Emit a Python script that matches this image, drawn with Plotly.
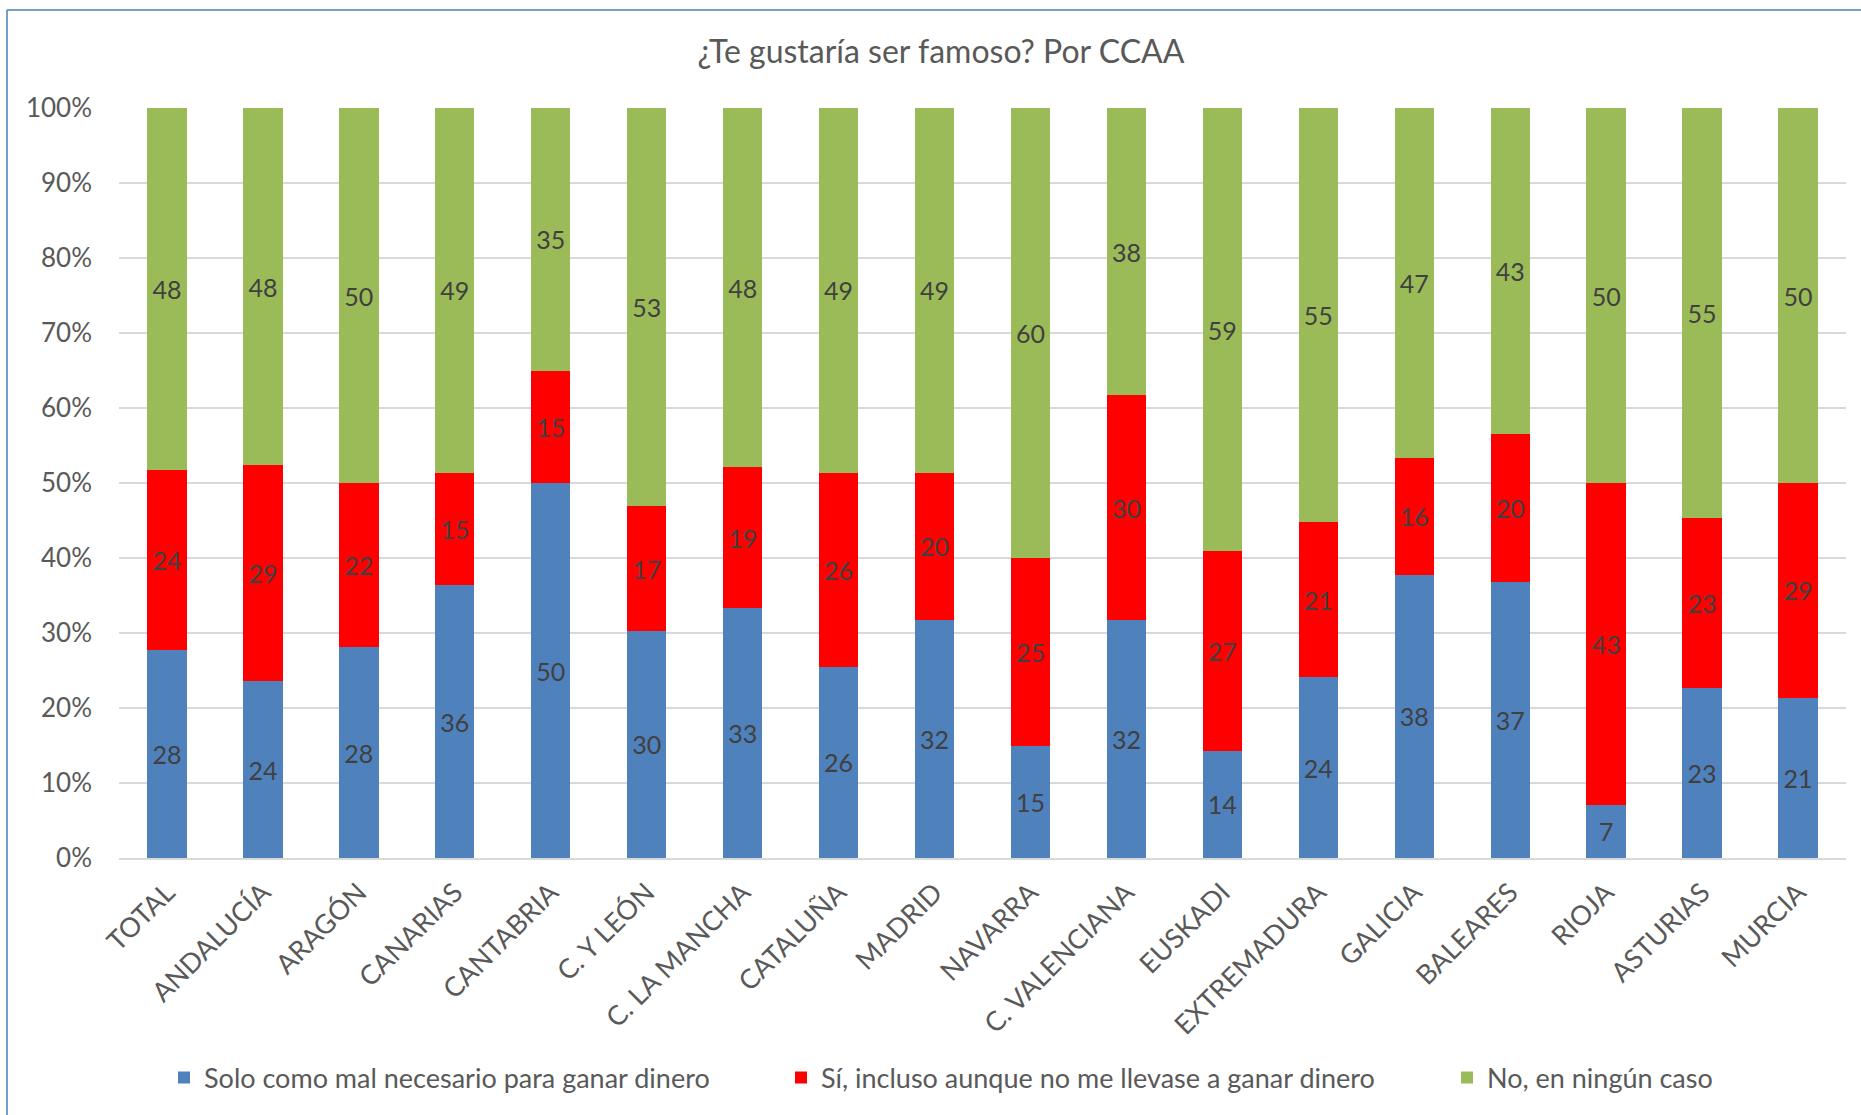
import plotly.graph_objects as go

categories = ["TOTAL", "ANDALUCÍA", "ARAGÓN", "CANARIAS", "CANTABRIA", "C. Y LEÓN",
              "C. LA MANCHA", "CATALUÑA", "MADRID", "NAVARRA", "C. VALENCIANA",
              "EUSKADI", "EXTREMADURA", "GALICIA", "BALEARES", "RIOJA", "ASTURIAS", "MURCIA"]

solo_mal_necesario = [27.8, 23.6, 28.1, 36.4, 50.0, 30.3, 33.3, 25.5, 31.7, 15.0,
                      31.7, 14.3, 24.1, 37.8, 36.8, 7.1, 22.7, 21.4]
si_incluso = [24.0, 28.8, 21.9, 15.0, 15.0, 16.6, 18.8, 25.9, 19.7, 25.0,
              30.0, 26.6, 20.7, 15.6, 19.8, 42.9, 22.7, 28.6]
no_ningun_caso = [48.2, 47.6, 50.0, 48.6, 35.0, 53.1, 47.9, 48.6, 48.6, 60.0,
                  38.3, 59.1, 55.2, 46.6, 43.4, 50.0, 54.6, 50.0]

series_names = ["Solo como mal necesario para ganar dinero",
                "Sí, incluso aunque no me llevase a ganar dinero",
                "No, en ningún caso"]
series_values = [solo_mal_necesario, si_incluso, no_ningun_caso]
series_colors = ["#4F81BD", "#FF0000", "#9BBB59"]
legend_ids = ["legend", "legend2", "legend3"]

FONT = "Lato"
TXT = "#595959"

fig = go.Figure()
for name, vals, col, lg in zip(series_names, series_values, series_colors, legend_ids):
    fig.add_trace(go.Bar(
        x=categories, y=vals, name=name,
        marker=dict(color=col, line=dict(width=0)),
        texttemplate="%{y:.0f}", textposition="inside", insidetextanchor="middle",
        textfont=dict(family=FONT, size=25, color="#404040"),
        constraintext="none", cliponaxis=False,
        legend=lg,
    ))

W, H = 1861, 1115
L, R, T, B = 119, 15, 108, 257
pw, ph = W - L - R, H - T - B

def px(xpix):
    return (xpix - L) / pw

def py(ypix):
    return (H - B - ypix) / ph

leg_common = dict(orientation="h", yanchor="middle", xanchor="left",
                  font=dict(family=FONT, size=27, color=TXT),
                  bgcolor="rgba(0,0,0,0)", itemwidth=30)

fig.update_layout(
    width=W, height=H,
    margin=dict(l=L, r=R, t=T, b=B),
    paper_bgcolor="white", plot_bgcolor="white",
    barmode="stack", bargap=0.59,
    title=dict(text="¿Te gustaría ser famoso? Por CCAA", x=941 / W, xref="container",
               xanchor="center", y=1 - 52 / H, yref="container", yanchor="middle",
               font=dict(family=FONT, size=32, color=TXT)),
    legend=dict(x=px(204 - 40), y=py(1078), **leg_common),
    legend2=dict(x=px(821 - 40), y=py(1078), **leg_common),
    legend3=dict(x=px(1487 - 40), y=py(1078), **leg_common),
    xaxis=dict(tickangle=-45, tickfont=dict(family=FONT, size=27, color=TXT),
               showline=True, linecolor="#D9D9D9", linewidth=2, ticks="",
               showgrid=False, ticklabelstandoff=6),
    yaxis=dict(range=[0, 100], dtick=10, ticksuffix="%",
               tickfont=dict(family=FONT, size=26, color=TXT),
               showgrid=True, gridcolor="#D9D9D9", gridwidth=1.5,
               zeroline=False, ticklabelstandoff=26),
    showlegend=True,
    shapes=[dict(type="line", xref="paper", yref="paper",
                 x0=px(7), x1=px(7), y0=py(10), y1=py(H + 5),
                 line=dict(color="#4A7EBB", width=1.5)),
            dict(type="line", xref="paper", yref="paper",
                 x0=px(7), x1=px(W + 5), y0=py(10), y1=py(10),
                 line=dict(color="#4A7EBB", width=1.5))],
)

fig.write_html("out.html", config={"displayModeBar": False},
               post_script="document.body.style.margin='0';document.body.style.overflow='hidden';")
